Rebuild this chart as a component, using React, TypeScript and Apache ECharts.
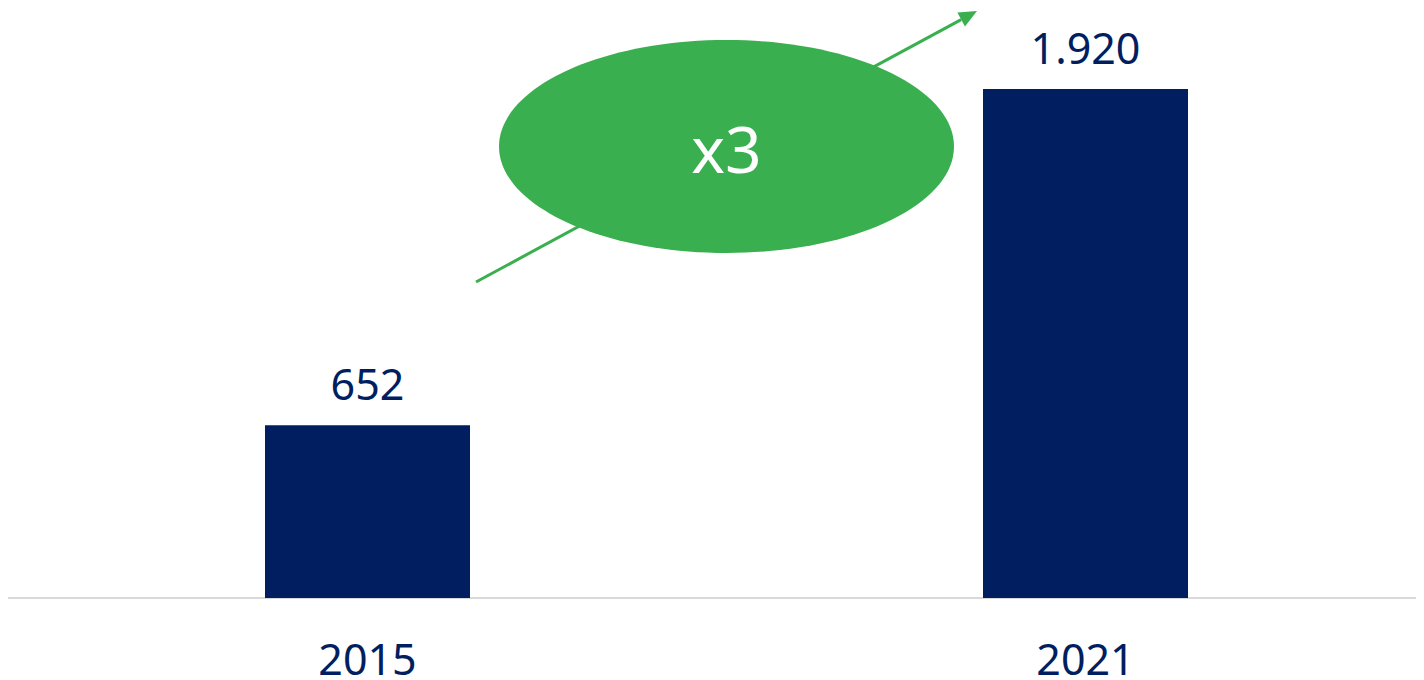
import React, { useEffect, useRef } from "react";
import * as echarts from "echarts";

const categories: string[] = ["2015", "2021"];
const values: number[] = [652, 1920];
const valueLabels: string[] = ["652", "1.920"];
const growthLabel = "x3";

const NAVY = "#001E60";
const GREEN = "#3AAF4F";
const FONT = "'Source Sans Pro', 'Noto Sans', sans-serif";

export default function App() {
  const ref = useRef<HTMLDivElement>(null);
  useEffect(() => {
    if (!ref.current) return;
    const chart = echarts.init(ref.current, null, { renderer: "svg" });
    // arrow geometry (chart-div coordinates)
    const x1 = 468, y1 = 274, x2 = 969, y2 = 3;
    const ang = Math.atan2(y2 - y1, x2 - x1);
    const L = 18, W = 8;
    const bx = x2 - L * Math.cos(ang), by = y2 - L * Math.sin(ang);
    const px = -Math.sin(ang) * W, py = Math.cos(ang) * W;
    chart.setOption({
      animation: false,
      grid: { left: 0.5, width: 1436, top: 59.8, bottom: 82, containLabel: false },
      xAxis: {
        type: "category",
        data: categories,
        axisLine: { show: true, lineStyle: { color: "#D9D9D9", width: 2 } },
        axisTick: { show: false },
        axisLabel: { color: NAVY, fontSize: 43, fontFamily: FONT, margin: 39 },
      },
      yAxis: { type: "value", min: 0, max: 2000, show: false, splitLine: { show: false } },
      series: [
        {
          type: "bar",
          data: values,
          barWidth: 205,
          itemStyle: { color: NAVY },
          label: {
            show: true,
            position: "top",
            distance: 20,
            color: NAVY,
            fontSize: 43,
            fontFamily: FONT,
            formatter: (p: any) => valueLabels[p.dataIndex],
          },
        },
      ],
      graphic: [
        {
          type: "line",
          z: 10,
          shape: { x1, y1, x2: bx, y2: by },
          style: { stroke: GREEN, lineWidth: 3 },
        },
        {
          type: "polygon",
          z: 10,
          shape: { points: [[x2, y2], [bx + px, by + py], [bx - px, by - py]] },
          style: { fill: GREEN },
        },
        {
          type: "ellipse",
          z: 11,
          shape: { cx: 718.5, cy: 138.5, rx: 227.5, ry: 106.5 },
          style: { fill: GREEN },
        },
        {
          type: "text",
          z: 12,
          x: 718.5,
          y: 140,
          style: {
            text: growthLabel,
            fill: "#FFFFFF",
            fontSize: 64,
            fontFamily: FONT,
            align: "center",
            verticalAlign: "middle",
          },
        },
      ],
    });
    return () => chart.dispose();
  }, []);
  return (
    <div style={{ width: 1416, height: 672, overflow: "hidden" }}>
      <div ref={ref} style={{ width: 1440, height: 672 }} />
    </div>
  );
}
